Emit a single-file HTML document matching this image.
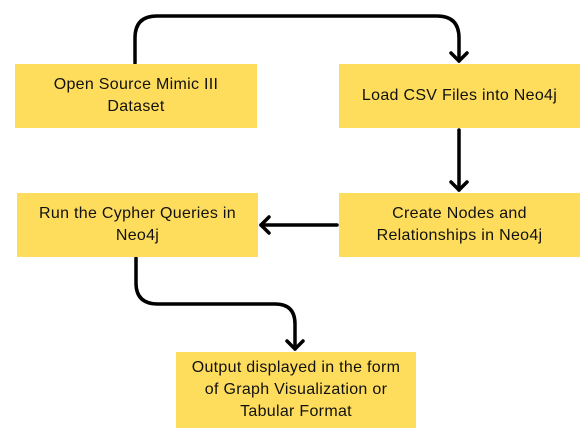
<!DOCTYPE html>
<html><head><style>
body{margin:0;width:588px;height:441px;background:#fff;position:relative;overflow:hidden;font-family:"Liberation Sans",sans-serif;}
.b{position:absolute;background:#fedd5c;display:flex;align-items:center;justify-content:center;text-align:center;font-size:16px;letter-spacing:0.3px;line-height:22px;color:#111;}
svg{position:absolute;left:0;top:0}
</style></head><body>
<svg width="588" height="441" fill="none" stroke="#000" stroke-width="3.5" stroke-linecap="round" stroke-linejoin="round">
<path d="M135 63 V38 Q135 16 157 16 H437 Q459 16 459 38 V61"/>
<path d="M451 53 L459 61 L467 53"/>
<path d="M459 130 V190"/>
<path d="M451 182 L459 190 L467 182"/>
<path d="M337 225 H261"/>
<path d="M269 217 L261 225 L269 233"/>
<path d="M136 258 V283 Q136 304 158 304 H275 Q295 304 295 324 V349"/>
<path d="M287 341 L295 349 L303 341"/>
</svg>
<div class="b" style="left:15px;top:64px;width:242px;height:64px">Open Source Mimic III<br>Dataset</div>
<div class="b" style="left:339px;top:64px;width:241px;height:64px">Load CSV Files into Neo4j</div>
<div class="b" style="left:339px;top:193px;width:241px;height:64px">Create Nodes and<br>Relationships in Neo4j</div>
<div class="b" style="left:17px;top:193px;width:241px;height:64px">Run the Cypher Queries in<br>Neo4j</div>
<div class="b" style="left:176px;top:352px;width:240px;height:76px">Output displayed in the form<br>of Graph Visualization or<br>Tabular Format</div>
</body></html>
